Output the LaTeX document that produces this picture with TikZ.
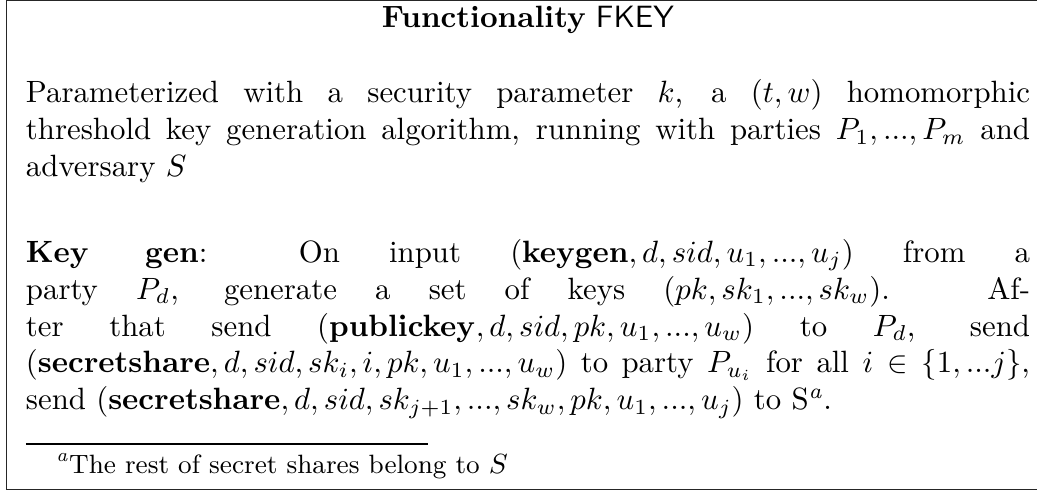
\documentclass[tikz,border=0pt]{standalone}
\renewcommand\footnotesize{\fontsize{8.6}{10.5}\selectfont}
\makeatletter
\skip\@mpfootins=11pt plus 2pt minus 1pt
\renewcommand\@makefntext[1]{\parindent 1em\noindent\hb@xt@14pt{\hss\@makefnmark}#1}
\makeatother
\begin{document}
\begin{tikzpicture}[x=1pt,y=1pt]
\tikzset{
  txt/.style={inner sep=0pt, outer sep=0pt},
  frame/.style={line width=0.4pt, draw=black!85}
}
\useasboundingbox (0,0) rectangle (336.7,-159.7);
% frame (right side lies outside the picture)
\draw[frame] (336.7,-0.25) -- (2.1,-0.25) -- (2.1,-158.9) -- (336.7,-158.9);
% title
\node[txt, anchor=base] (title) at (171.4,-8.8) {\textbf{Functionality} \textsf{FKEY}};
% parameters paragraph
\node[txt, anchor=base west] (params) at (8.44,-33.4) {\begin{minipage}[t]{326pt}
Parameterized with a security parameter $k$, a $(t,w)$ homomorphic\linebreak
threshold key generation algorithm, running with parties $P_1,...,P_m$ and\linebreak
adversary $S$
\end{minipage}};
% key generation paragraph with footnote
\node[txt, anchor=base west] (keygen) at (8.44,-85.1) {\begin{minipage}[t]{326pt}
\textbf{Key gen}: On input $(\mathbf{keygen},d,sid,u_1,...,u_j)$ from a\linebreak
party $P_d$, generate a set of keys $(pk,sk_1,...,sk_w)$. Af-\linebreak
ter that send $(\mathbf{publickey},d,sid,pk,u_1,...,u_w)$ to $P_d$, send\linebreak
$(\mathbf{secretshare},d,sid,sk_i,i,pk,u_1,...,u_w)$ to party $P_{u_i}$ for all $i\in\{1,...j\}$,\linebreak
send $(\mathbf{secretshare},d,sid,sk_{j+1},...,sk_w,pk,u_1,...,u_j)$ to S\footnote{The rest of secret shares belong to $S$}.
\end{minipage}};
\end{tikzpicture}
\end{document}
